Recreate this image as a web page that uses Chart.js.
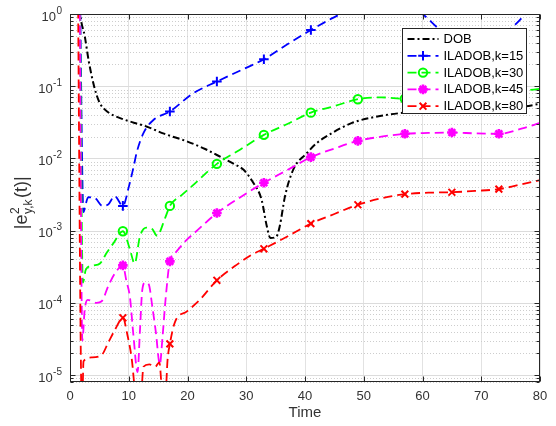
<!DOCTYPE html>
<html lang="en">
<head>
<meta charset="UTF-8">
<title>Output tracking error</title>
<script src="https://cdn.jsdelivr.net/npm/chart.js"></script>
<style>
  body { margin: 0; background: #fff; }
  #wrap { width: 556px; height: 426px; }
</style>
</head>
<body>
<div id="wrap"><canvas id="err-chart" width="556" height="426"></canvas></div>
<script>
// sample times that carry a marker on the ILADOB curves
const markerTimes = [9, 17, 25, 33, 41, 49, 57, 65, 73];

const dobTime = [1.5, 1.75, 2.5, 3.2, 4.1, 5.0, 6.0, 7.0, 9, 11, 13, 16, 20, 23, 26, 28, 29.5, 31.2, 32.6, 33.5, 34.1, 35.1, 35.7, 36.6, 38, 40.3, 42, 44, 48, 53, 57, 61, 65, 69, 73, 77, 80];
const dobErr = [2.0, 1.0, 0.5, 0.22, 0.1, 0.06, 0.047, 0.041, 0.035, 0.031, 0.0277, 0.022, 0.0171, 0.0135, 0.0101, 0.0083, 0.007, 0.0046, 0.0027, 0.00115, 0.00079, 0.00082, 0.00115, 0.003, 0.007, 0.0118, 0.0163, 0.021, 0.031, 0.039, 0.043, 0.045, 0.047, 0.049, 0.05, 0.052, 0.057];

const k15Time = [1.6, 2.3, 2.6, 3.1, 4.3, 5.5, 6.5, 7.6, 9, 10, 10.8, 11.4, 12.5, 14.2, 17, 21, 25, 29, 33, 37, 41, 44, 46, 49, 53, 57, 60, 62.7, 65, 68, 71, 73, 76, 77.5, 80];
const k15Err = [10, 0.0018, 0.0022, 0.0029, 0.0028, 0.0022, 0.0023, 0.003, 0.0022, 0.004, 0.0075, 0.0125, 0.0224, 0.034, 0.0446, 0.08, 0.116, 0.165, 0.236, 0.38, 0.6, 0.82, 1.0, 1.4, 1.7, 1.4, 1.0, 0.63, 0.45, 0.38, 0.42, 0.47, 0.74, 1.0, 1.6];

const k30Time = [1.6, 2.2, 2.7, 4.0, 5.1, 6.3, 7.4, 9, 10.2, 11.0, 11.9, 13.0, 14.0, 14.8, 16.2, 17, 19, 21, 25, 29, 33, 37, 41, 45, 49, 53, 57, 61, 65, 69, 73, 77, 80];
const k30Err = [10, 1.9e-4, 2.9e-4, 3.3e-4, 3.5e-4, 5e-4, 6.7e-4, 9.8e-4, 5.5e-4, 3.5e-4, 8.3e-4, 1.1e-3, 1.05e-3, 8.5e-4, 1.5e-3, 2.2e-3, 3.1e-3, 4.3e-3, 8.4e-3, 0.0133, 0.0212, 0.030, 0.043, 0.053, 0.066, 0.07, 0.067, 0.068, 0.07, 0.073, 0.078, 0.086, 0.092];

const k45Time = [1.6, 2.1, 2.5, 3.0, 4.5, 5.4, 6.5, 7.7, 9, 9.6, 10.2, 10.8, 11.5, 11.9, 12.3, 12.8, 13.4, 14.0, 14.6, 15.3, 15.7, 16.3, 17, 18, 19.9, 21, 25, 29, 33, 37, 41, 45, 49, 53, 57, 61, 65, 69, 73, 77, 80];
const k45Err = [10, 3e-5, 8e-5, 1.1e-4, 1.0e-4, 1.05e-4, 1.7e-4, 2.6e-4, 3.3e-4, 2e-4, 1.2e-4, 3.5e-5, 1.1e-5, 4e-5, 1.5e-4, 1.9e-4, 1.8e-4, 9e-5, 4e-5, 1.4e-5, 3e-5, 1.2e-4, 3.75e-4, 5e-4, 7.5e-4, 9e-4, 1.75e-3, 2.9e-3, 4.6e-3, 6.9e-3, 0.0104, 0.0137, 0.0175, 0.02, 0.0219, 0.0225, 0.0228, 0.0222, 0.0219, 0.026, 0.031];

const k80Time = [1.2, 2.05, 2.3, 3.7, 5.4, 6.5, 7.7, 9, 9.8, 10.5, 11.2, 12.0, 12.5, 13.5, 14.5, 15.2, 15.8, 16.3, 16.6, 17, 17.9, 19.9, 22.1, 25, 28, 30.9, 33, 37, 41, 45, 49, 53, 57, 61, 65, 69, 73, 77, 80];
const k80Err = [100, 3e-6, 1.55e-5, 1.75e-5, 1.9e-5, 2.8e-5, 4.3e-5, 6.2e-5, 3.5e-5, 1.7e-5, 5e-6, 4e-6, 1.3e-5, 1.4e-5, 1.3e-5, 1.5e-5, 5e-6, 6e-6, 1.6e-5, 2.7e-5, 5.5e-5, 7.6e-5, 1.1e-4, 2.05e-4, 3.2e-4, 4.6e-4, 5.6e-4, 8.3e-4, 1.25e-3, 1.7e-3, 2.28e-3, 2.8e-3, 3.2e-3, 3.35e-3, 3.4e-3, 3.55e-3, 3.76e-3, 4.4e-3, 5.0e-3];

const xTicks = [0, 10, 20, 30, 40, 50, 60, 70, 80];
const yDecades = [0, -1, -2, -3, -4, -5];

const FONT = '"Liberation Sans", Arial, Helvetica, sans-serif';
const AXIS_INK = '#262626';
const LABEL_INK = '#333333';

function series(times, values) {
  return times.map((t, i) => ({ x: t, y: values[i] }));
}

function markerRadius(r) {
  return ctx => (ctx.raw && markerTimes.includes(ctx.raw.x)) ? r : 0;
}

function lineSet(label, times, values, color, style, order) {
  return {
    label: label,
    data: series(times, values),
    borderColor: color,
    borderWidth: 1.8,
    borderDash: [9, 5],
    pointStyle: style,
    pointRadius: markerRadius(style === 'circle' ? 4.2 : 4.8),
    pointBorderColor: color,
    pointBackgroundColor: 'rgba(0,0,0,0)',
    pointBorderWidth: style === 'star' ? 2.6 : 2,
    cubicInterpolationMode: 'monotone',
    clip: 0,
    order: order
  };
}

const datasets = [
  {
    label: 'DOB',
    data: series(dobTime, dobErr),
    borderColor: '#000000',
    borderWidth: 2,
    borderDash: [7, 3, 2, 3],
    pointRadius: 0,
    pointStyle: false,
    cubicInterpolationMode: 'monotone',
    clip: 0,
    order: 5
  },
  lineSet('ILADOB,k=15', k15Time, k15Err, '#0000ff', 'cross', 4),
  lineSet('ILADOB,k=30', k30Time, k30Err, '#00ff00', 'circle', 3),
  lineSet('ILADOB,k=45', k45Time, k45Err, '#ff00ff', 'star', 2),
  lineSet('ILADOB,k=80', k80Time, k80Err, '#ff0000', 'crossRot', 1)
];

function drawMarker(ctx, style, x, y, r) {
  ctx.beginPath();
  if (style === 'circle') {
    ctx.arc(x, y, r, 0, Math.PI * 2);
  }
  if (style === 'cross' || style === 'star') {
    ctx.moveTo(x - r, y); ctx.lineTo(x + r, y);
    ctx.moveTo(x, y - r); ctx.lineTo(x, y + r);
  }
  if (style === 'crossRot' || style === 'star') {
    const d = r * Math.SQRT1_2;
    ctx.moveTo(x - d, y - d); ctx.lineTo(x + d, y + d);
    ctx.moveTo(x - d, y + d); ctx.lineTo(x + d, y - d);
  }
  ctx.stroke();
}

// dotted minor grid + solid decade grid on the log axis
const logGrid = {
  id: 'logGrid',
  beforeDatasetsDraw(chart) {
    const { ctx, chartArea: a, scales: { y } } = chart;
    ctx.save();
    ctx.lineWidth = 1;
    for (let e = -6; e <= 0; e++) {
      for (let m = 1; m <= 9; m++) {
        const v = m * Math.pow(10, e);
        if (v < y.min || v > y.max) continue;
        const py = Math.round(y.getPixelForValue(v)) + 0.5;
        if (m === 1) {
          ctx.setLineDash([]);
          ctx.strokeStyle = '#dcdcdc';
        } else {
          ctx.setLineDash([1, 2]);
          ctx.strokeStyle = '#cdcdcd';
        }
        ctx.beginPath();
        ctx.moveTo(a.left, py);
        ctx.lineTo(a.right, py);
        ctx.stroke();
      }
    }
    ctx.restore();
  }
};

// box, inward ticks, y labels with exponents, y title
const axesBox = {
  id: 'axesBox',
  afterDatasetsDraw(chart) {
    const { ctx, chartArea: a, scales: { x, y } } = chart;
    const L = Math.round(a.left) + 0.5, R = Math.round(a.right) - 0.5;
    const T = Math.round(a.top) + 0.5, B = Math.round(a.bottom) - 0.5;
    ctx.save();
    ctx.strokeStyle = AXIS_INK;
    ctx.lineWidth = 1;
    ctx.setLineDash([]);
    ctx.strokeRect(L, T, R - L, B - T);

    ctx.beginPath();
    xTicks.forEach(t => {
      const px = Math.round(x.getPixelForValue(t)) + 0.5;
      ctx.moveTo(px, B); ctx.lineTo(px, B - 5);
      ctx.moveTo(px, T); ctx.lineTo(px, T + 5);
    });
    for (let e = -6; e <= 0; e++) {
      for (let m = 1; m <= 9; m++) {
        const v = m * Math.pow(10, e);
        if (v < y.min || v > y.max) continue;
        const py = Math.round(y.getPixelForValue(v)) + 0.5;
        const len = m === 1 ? 5 : 3;
        ctx.moveTo(L, py); ctx.lineTo(L + len, py);
        ctx.moveTo(R, py); ctx.lineTo(R - len, py);
      }
    }
    ctx.stroke();

    ctx.fillStyle = LABEL_INK;
    ctx.textAlign = 'right';
    ctx.textBaseline = 'middle';
    yDecades.forEach(e => {
      const py = y.getPixelForValue(Math.pow(10, e));
      const exp = String(e);
      ctx.font = '10px ' + FONT;
      const we = ctx.measureText(exp).width;
      const xr = a.left - 8;
      ctx.fillText(exp, xr, py - 3);
      ctx.font = '13px ' + FONT;
      ctx.fillText('10', xr - we - 0.5, py + 3);
    });

    // |e^2_{y,k}(t)|
    ctx.translate(27, 203);
    ctx.rotate(-Math.PI / 2);
    ctx.textAlign = 'left';
    ctx.textBaseline = 'alphabetic';
    const big = '18px ' + FONT, small = '12px ' + FONT;
    ctx.font = big;
    const wA = ctx.measureText('|e').width;
    const wC = ctx.measureText('(t)|').width;
    ctx.font = small;
    const wB = Math.max(ctx.measureText('2').width, ctx.measureText('y,k').width) + 1.5;
    let tx = -(wA + wB + wC) / 2;
    ctx.font = big;
    ctx.fillText('|e', tx, 0);
    tx += wA + 0.5;
    ctx.font = small;
    ctx.fillText('2', tx, -8);
    ctx.fillText('y,k', tx, 5);
    tx += wB;
    ctx.font = big;
    ctx.fillText('(t)|', tx, 0);
    ctx.restore();
  }
};

// legend box in the upper right of the plot
const boxLegend = {
  id: 'boxLegend',
  afterDraw(chart) {
    const ctx = chart.ctx;
    const x0 = 402.5, y0 = 28.5, w = 124, h = 85;
    ctx.save();
    ctx.fillStyle = '#ffffff';
    ctx.fillRect(x0, y0, w, h);
    ctx.strokeStyle = '#262626';
    ctx.lineWidth = 1;
    ctx.setLineDash([]);
    ctx.strokeRect(x0, y0, w, h);
    chart.data.datasets.forEach((ds, i) => {
      const ry = y0 + 10.5 + i * 16.8;
      ctx.strokeStyle = ds.borderColor;
      ctx.lineWidth = ds.borderWidth;
      ctx.setLineDash(ds.borderDash);
      ctx.beginPath();
      ctx.moveTo(x0 + 5, ry);
      ctx.lineTo(x0 + 36, ry);
      ctx.stroke();
      if (ds.pointStyle) {
        ctx.setLineDash([]);
        ctx.lineWidth = ds.pointBorderWidth;
        drawMarker(ctx, ds.pointStyle, x0 + 20.5, ry, ds.pointStyle === 'circle' ? 4.2 : 4.8);
      }
      ctx.fillStyle = '#000000';
      ctx.font = '13px ' + FONT;
      ctx.textAlign = 'left';
      ctx.textBaseline = 'middle';
      ctx.fillText(ds.label, x0 + 41, ry + 0.5);
    });
    ctx.restore();
  }
};

new Chart(document.getElementById('err-chart').getContext('2d'), {
  type: 'line',
  data: { datasets: datasets },
  options: {
    responsive: false,
    animation: false,
    events: [],
    layout: { padding: { left: 0, right: 16, top: 14, bottom: 0 } },
    plugins: {
      legend: { display: false },
      tooltip: { enabled: false }
    },
    scales: {
      x: {
        type: 'linear',
        min: 0,
        max: 80,
        ticks: {
          stepSize: 10,
          color: LABEL_INK,
          font: { family: FONT, size: 13 },
          padding: 7,
          maxRotation: 0
        },
        grid: { color: '#e2e2e2', drawTicks: false },
        border: { display: false },
        title: {
          display: true,
          text: 'Time',
          color: LABEL_INK,
          font: { family: FONT, size: 15 },
          padding: { top: 0, bottom: 4 }
        },
        afterFit: s => { s.height = 44; }
      },
      y: {
        type: 'logarithmic',
        min: 8e-6,
        max: 1,
        ticks: { display: false },
        grid: { display: false },
        border: { display: false },
        afterFit: s => { s.width = 70; }
      }
    }
  },
  plugins: [logGrid, axesBox, boxLegend]
});
</script>
</body>
</html>
